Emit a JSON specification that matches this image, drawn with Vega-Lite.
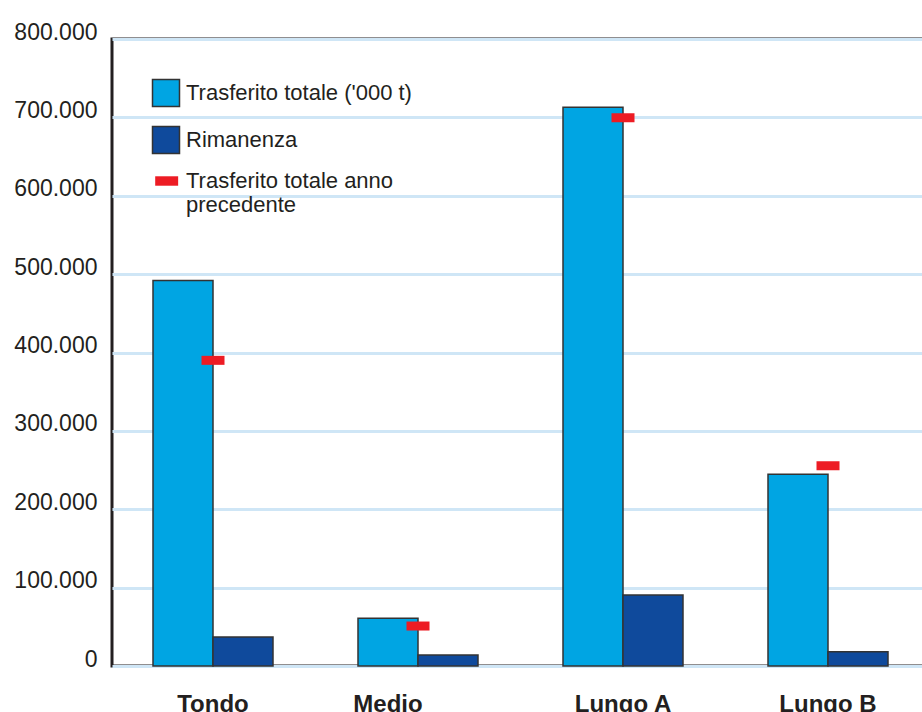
{
  "$schema": "https://vega.github.io/schema/vega-lite/v6.json",
  "autosize": "none",
  "width": 812,
  "height": 627,
  "padding": {"left": 112, "top": 39, "right": 0, "bottom": 46},
  "background": "white",
  "config": {
    "view": {"stroke": "#231f20", "strokeWidth": 3},
    "axis": {"labelColor": "#231f20"}
  },
  "data": {
    "values": [
      {"cat": "Tondo", "series": "Trasferito totale ('000 t)", "value": 492000},
      {"cat": "Tondo", "series": "Rimanenza", "value": 37000},
      {"cat": "Tondo", "series": "Trasferito totale anno precedente", "value": 390000},
      {"cat": "Medio", "series": "Trasferito totale ('000 t)", "value": 61000},
      {"cat": "Medio", "series": "Rimanenza", "value": 14000},
      {"cat": "Medio", "series": "Trasferito totale anno precedente", "value": 51000},
      {"cat": "Lungo A", "series": "Trasferito totale ('000 t)", "value": 713000},
      {"cat": "Lungo A", "series": "Rimanenza", "value": 90500},
      {"cat": "Lungo A", "series": "Trasferito totale anno precedente", "value": 699500},
      {"cat": "Lungo B", "series": "Trasferito totale ('000 t)", "value": 244500},
      {"cat": "Lungo B", "series": "Rimanenza", "value": 18300},
      {"cat": "Lungo B", "series": "Trasferito totale anno precedente", "value": 255500}
    ]
  },
  "encoding": {
    "x": {
      "field": "cat",
      "type": "nominal",
      "sort": ["Tondo", "Medio", "Lungo A", "Lungo B"],
      "title": null,
      "scale": {"paddingInner": 0.41463, "paddingOuter": 0.1878, "align": 0.5325},
      "axis": {
        "domain": false,
        "ticks": false,
        "labelAngle": 0,
        "labelFont": "Liberation Sans",
        "labelFontWeight": "bold",
        "labelFontSize": 24,
        "labelBaseline": "alphabetic",
        "labelPadding": 45,
        "labelColor": "#231f20",
        "labelOffset": {"condition": {"test": "datum.label == 'Medio'", "value": -30}, "value": 0}
      }
    },
    "y": {
      "field": "value",
      "type": "quantitative",
      "title": null,
      "scale": {"domain": [0, 800000], "nice": false},
      "axis": {
        "values": [0, 100000, 200000, 300000, 400000, 500000, 600000, 700000, 800000],
        "domain": false,
        "ticks": false,
        "grid": true,
        "gridColor": "#cfe6f6",
        "gridWidth": 3,
        "labelFont": "Liberation Sans",
        "labelFontSize": 23,
        "labelBaseline": "alphabetic",
        "labelPadding": 15,
        "labelColor": "#231f20",
        "labelExpr": "replace(format(datum.value, ','), ',', '.')"
      }
    },
    "color": {
      "field": "series",
      "type": "nominal",
      "scale": {
        "domain": ["Trasferito totale ('000 t)", "Rimanenza", "Trasferito totale anno precedente"],
        "range": ["#00a5e3", "#0f4a9c", "#ed1c24"]
      },
      "legend": {
        "title": null,
        "orient": "none",
        "legendX": 43,
        "legendY": 43,
        "padding": 0,
        "symbolType": "square",
        "symbolSize": 729,
        "symbolStrokeColor": "#333333",
        "symbolStrokeWidth": 1.5,
        "symbolOpacity": 1,
        "labelFont": "Liberation Sans",
        "labelFontSize": 22,
        "labelColor": "#231f20",
        "labelOffset": 9,
        "labelLimit": 400,
        "rowPadding": 13,
        "labelExpr": "datum.label == 'Trasferito totale anno precedente' ? ['Trasferito totale anno', 'precedente'] : datum.label",
        "encode": {
          "symbols": {
            "update": {
              "shape": {"signal": "datum.value == 'Trasferito totale anno precedente' ? 'M-0.8,-0.35H0.9V0.35H-0.8Z' : 'square'"},
              "strokeWidth": {"signal": "datum.value == 'Trasferito totale anno precedente' ? 0 : 1.5"}
            }
          }
        }
      }
    }
  },
  "layer": [
    {
      "transform": [{"filter": "datum.series != 'Trasferito totale anno precedente'"}],
      "mark": {"type": "bar", "stroke": "#333333", "strokeWidth": 1.5},
      "encoding": {
        "xOffset": {
          "field": "series",
          "type": "nominal",
          "sort": ["Trasferito totale ('000 t)", "Rimanenza"],
          "scale": {"paddingInner": 0, "paddingOuter": 0}
        }
      }
    },
    {
      "transform": [{"filter": "datum.series == 'Trasferito totale anno precedente'"}],
      "mark": {"type": "tick", "size": 23, "thickness": 9, "opacity": 1},
      "encoding": {}
    }
  ]
}
